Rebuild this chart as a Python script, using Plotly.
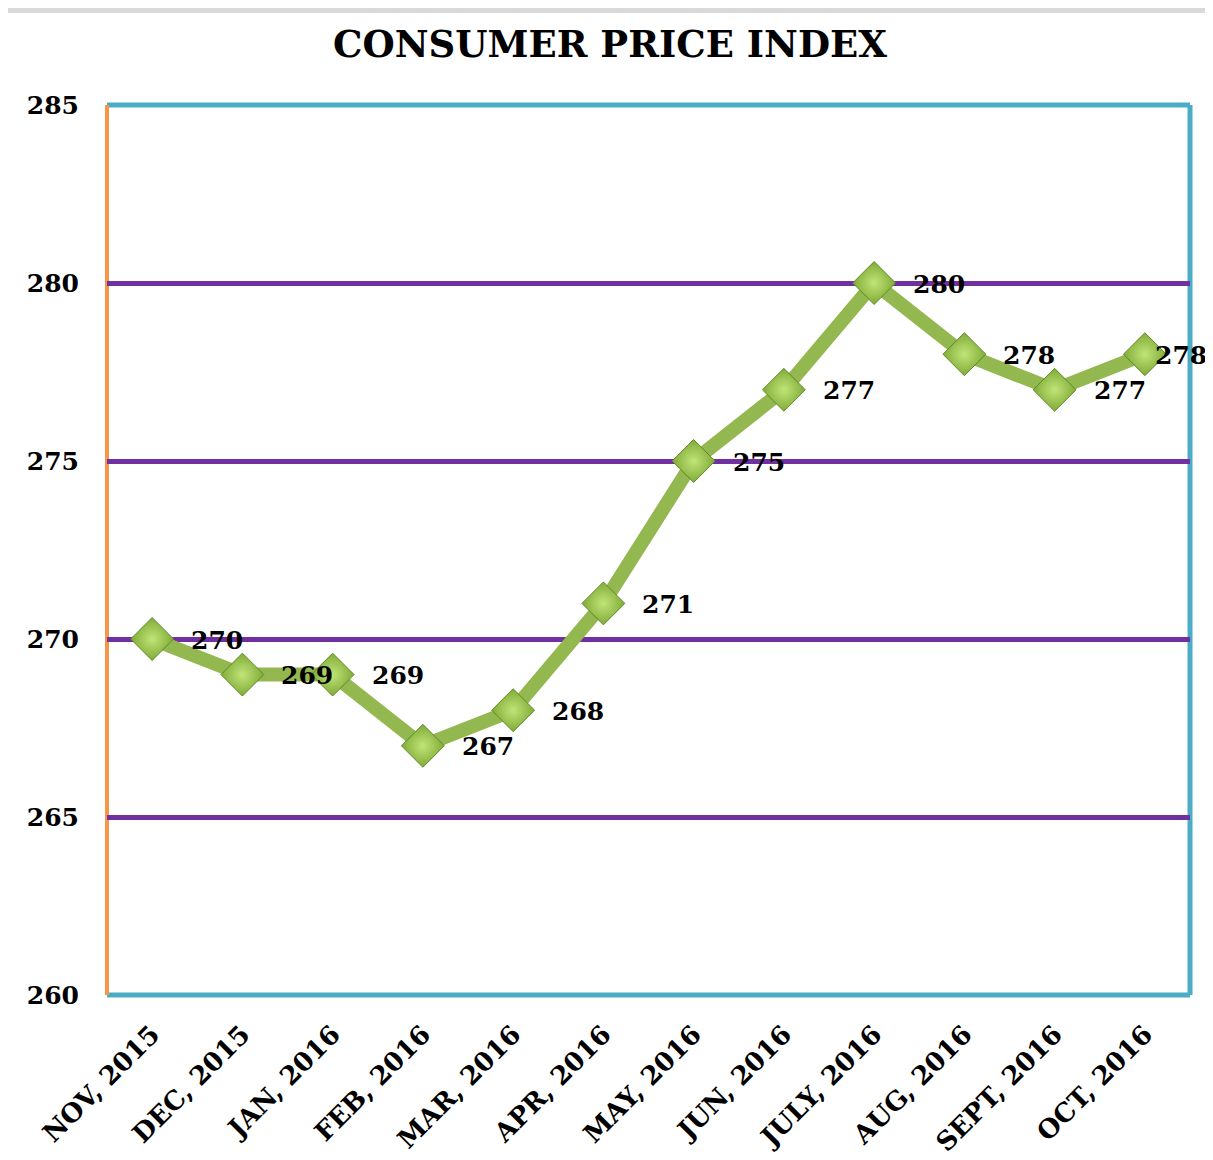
import plotly.graph_objects as go

months = ["NOV, 2015", "DEC, 2015", "JAN, 2016", "FEB, 2016", "MAR, 2016", "APR, 2016",
          "MAY, 2016", "JUN, 2016", "JULY, 2016", "AUG, 2016", "SEPT, 2016", "OCT, 2016"]
cpi = [270, 269, 269, 267, 268, 271, 275, 277, 280, 278, 277, 278]
y_ticks = [260, 265, 270, 275, 280, 285]

# page body has an 8px margin: map reference pixels to figure pixels
OX, OY = 8, 7
W, H = 1213 - OX, 1160 - OY
L, R, T, B = 107 - OX, 1190 - OX, 104 - OY, 994 - OY
FONT = "DejaVu Serif"

fig = go.Figure()
fig.add_trace(go.Scatter(
    x=months, y=cpi, mode="lines+markers",
    line=dict(color="#93b84f", width=14),
    marker=dict(symbol="diamond", size=33, color="#80ab37",
                gradient=dict(type="radial", color="#c0e478"),
                line=dict(color="#5f8a28", width=1)),
    cliponaxis=False, showlegend=False, hoverinfo="skip",
))

n = len(cpi)
for i, (m, v) in enumerate(zip(months, cpi)):
    fig.add_annotation(x=m, y=v, text=str(v), showarrow=False,
                       xshift=36 if i == n - 1 else 65, yshift=-1,
                       font=dict(family=FONT, size=25, color="black", weight="bold"))

def px(xp):
    return (xp - OX - L) / (R - L)

def py(yp):
    return (B - (yp - OY)) / (B - T)

shapes = [
    dict(type="rect", xref="paper", yref="paper", x0=px(0), x1=px(1230), y0=py(12), y1=py(-5),
         fillcolor="#d9d9d9", line=dict(width=0), layer="below"),
    dict(type="line", xref="paper", yref="paper", x0=0, x1=1, y0=1, y1=1,
         line=dict(color="#4bacc6", width=5), layer="between"),
    dict(type="line", xref="paper", yref="paper", x0=1, x1=1, y0=0, y1=1,
         line=dict(color="#4bacc6", width=5), layer="between"),
    dict(type="line", xref="paper", yref="paper", x0=0, x1=1, y0=0, y1=0,
         line=dict(color="#4bacc6", width=5), layer="between"),
    dict(type="line", xref="paper", yref="paper", x0=0, x1=0, y0=0, y1=1,
         line=dict(color="#f79646", width=4), layer="between"),
]

fig.update_layout(
    width=W, height=H,
    margin=dict(l=L, r=W - R, t=T, b=H - B, autoexpand=False),
    paper_bgcolor="white", plot_bgcolor="white",
    title=dict(text="CONSUMER PRICE INDEX", x=(610 - OX) / W, xref="container", xanchor="center",
               y=1 - (43 - OY) / H, yref="container", yanchor="middle",
               font=dict(family=FONT, size=37, color="black", weight="bold")),
    shapes=shapes,
    xaxis=dict(type="category", range=[-0.5, 11.5], showgrid=False, zeroline=False,
               showline=False, ticks="", tickangle=-45, ticklabelstandoff=18, automargin=False,
               tickfont=dict(family=FONT, size=26, color="black", weight="bold")),
    yaxis=dict(range=[260, 285], tickvals=y_ticks, showgrid=True, gridcolor="#7030a0",
               gridwidth=5, zeroline=False, showline=False, ticks="", ticklabelstandoff=27,
               automargin=False,
               tickfont=dict(family=FONT, size=25, color="black", weight="bold")),
)

fig.write_html("out.html")
